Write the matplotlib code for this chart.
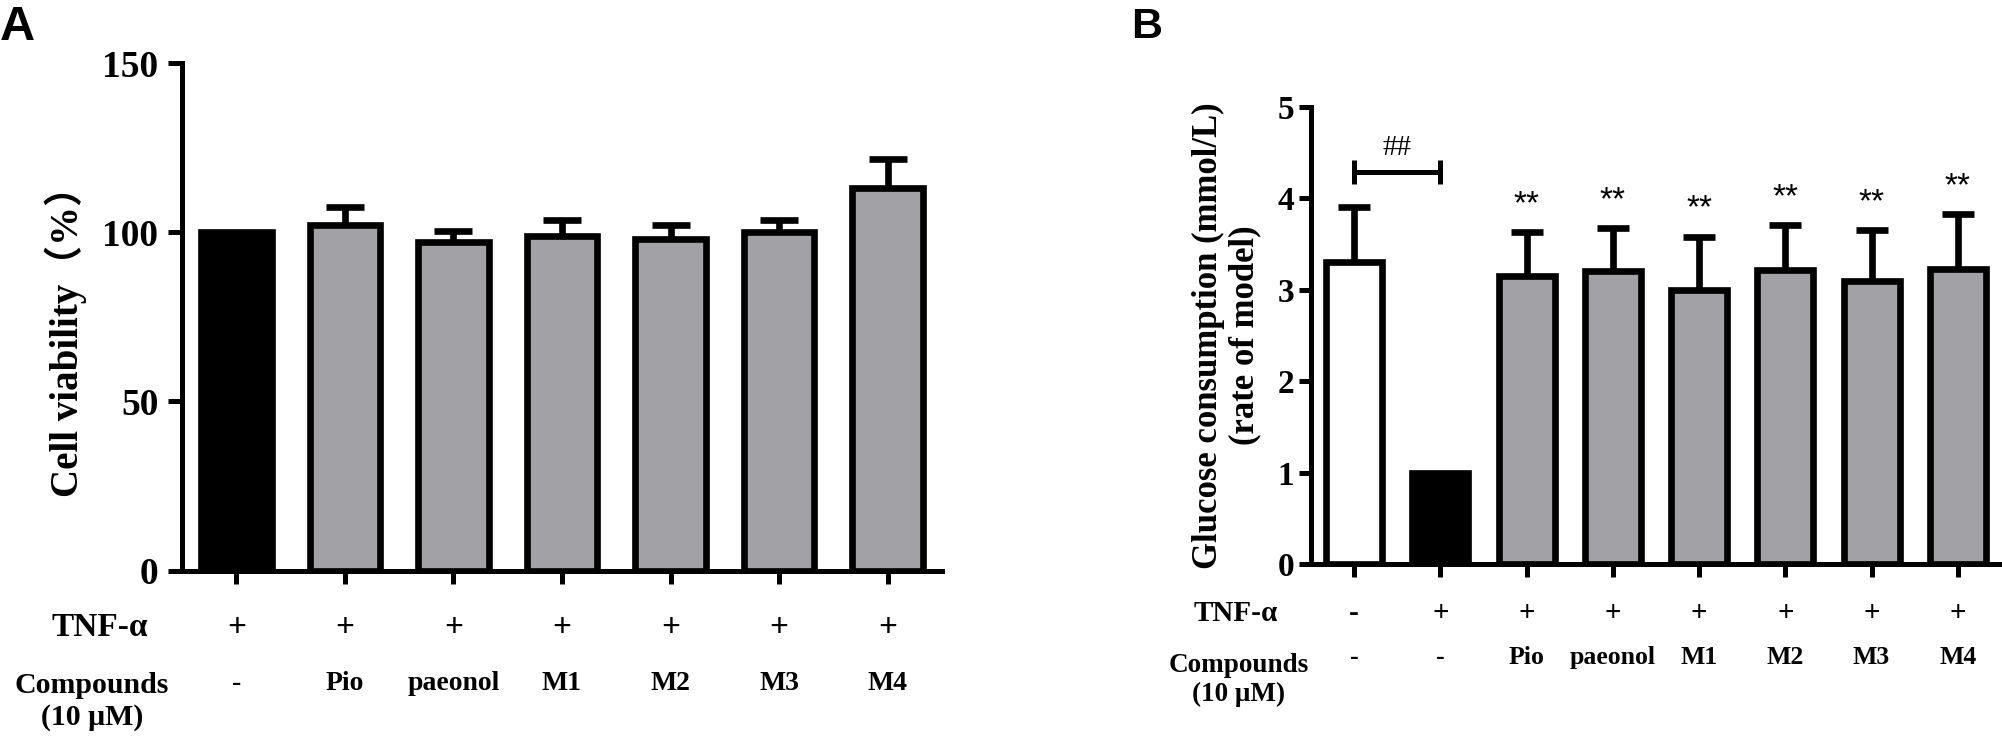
import numpy as np
import matplotlib.pyplot as plt

SERIF = ['Liberation Serif', 'Noto Sans CJK SC', 'DejaVu Sans']
SANS = ['Liberation Sans', 'DejaVu Sans']
GREY = '#a2a1a6'

# ── Panel A: cell viability ──────────────────────────────────────────────────
a_compounds = ['-', 'Pio', 'paeonol', 'M1', 'M2', 'M3', 'M4']
a_tnf       = ['+', '+', '+', '+', '+', '+', '+']
a_vals      = [100, 102, 97, 99, 98, 100, 113]
a_errs      = [0, 5.5, 3.3, 4.5, 4.0, 3.5, 8.5]
a_colors    = ['black'] + [GREY] * 6
a_yticks    = [0, 50, 100, 150]

# ── Panel B: glucose consumption ─────────────────────────────────────────────
b_compounds = ['-', '-', 'Pio', 'paeonol', 'M1', 'M2', 'M3', 'M4']
b_tnf       = ['-', '+', '+', '+', '+', '+', '+', '+']
b_vals      = [3.30, 1.00, 3.15, 3.20, 3.00, 3.22, 3.10, 3.23]
b_errs      = [0.60, 0, 0.48, 0.47, 0.58, 0.49, 0.55, 0.60]
b_colors    = ['white', 'black'] + [GREY] * 6
b_marks     = ['', '', '**', '**', '**', '**', '**', '**']
b_yticks    = [0, 1, 2, 3, 4, 5]


def draw_bars(ax, vals, errs, colors, capsize):
    x = np.arange(len(vals))
    vals = np.asarray(vals, float)
    errs = np.asarray(errs, float)
    ax.bar(x, vals, width=0.65, color=colors, edgecolor='black',
           linewidth=4.8, zorder=3)
    m = errs > 0
    eb = ax.errorbar(x[m], vals[m], yerr=[np.zeros(m.sum()), errs[m]],
                     fmt='none', ecolor='black', elinewidth=4.8,
                     capsize=capsize, capthick=4.8, zorder=2)
    eb[1][0].set_visible(False)   # one-sided (upper) error bars
    return x


def style_axis(ax, n, yticks, tick_fs, ylen, ypad):
    ax.set_xlim(-0.5, n - 0.5)
    ax.set_ylim(yticks[0], yticks[-1])
    ax.set_yticks(yticks)
    ax.set_xticks(np.arange(n))
    ax.set_xticklabels([''] * n)
    for s in ('top', 'right'):
        ax.spines[s].set_visible(False)
    for s in ('left', 'bottom'):
        ax.spines[s].set_linewidth(3.6)
    ax.tick_params(axis='x', direction='out', length=9, width=3.6)
    ax.tick_params(axis='y', direction='out', length=ylen, width=3.6,
                   pad=ypad)
    for lab in ax.get_yticklabels():
        lab.set_fontfamily(SERIF)
        lab.set_fontweight('bold')
        lab.set_fontsize(tick_fs)


fig = plt.figure(figsize=(20.02, 7.37), dpi=100)

# ── A ────────────────────────────────────────────────────────────────────────
axA = fig.add_axes([0.0909, 0.2259, 0.3796, 0.6886])
xA = draw_bars(axA, a_vals, a_errs, a_colors, capsize=13.5)
style_axis(axA, len(a_vals), a_yticks, 27, 10, 7)
axA.set_ylabel('Cell viability（%）', family=SERIF, fontweight='bold',
               fontsize=28, va='center')
axA.yaxis.set_label_coords(-0.153, 0.47)

trA = axA.get_xaxis_transform()
for xi, t, c in zip(xA, a_tnf, a_compounds):
    axA.text(xi, -0.112, t, transform=trA, ha='center', va='center',
             family=SERIF, fontweight='bold', fontsize=24)
    axA.text(xi, -0.222, c, transform=trA, ha='center', va='center',
             family=SERIF, fontweight='bold', fontsize=20)
axA.text(-1.257, -0.112, 'TNF-α', transform=trA, ha='center', va='center',
         family=SERIF, fontweight='bold', fontsize=24, clip_on=False)
axA.text(-1.33, -0.258, 'Compounds\n(10 μM)', transform=trA, ha='center',
         va='center', family=SERIF, fontweight='bold', fontsize=21.5,
         linespacing=1.25, clip_on=False)

# ── B ────────────────────────────────────────────────────────────────────────
axB = fig.add_axes([0.6548, 0.2341, 0.3447, 0.6212])
xB = draw_bars(axB, b_vals, b_errs, b_colors, capsize=11.5)
style_axis(axB, len(b_vals), b_yticks, 24, 8.6, 3.6)
axB.set_ylabel('Glucose consumption (mmol/L)\n(rate of model)', family=SERIF,
               fontweight='bold', fontsize=25, va='center', linespacing=1.1)
axB.yaxis.set_label_coords(-0.122, 0.5)

for xi, v, e, mk in zip(xB, b_vals, b_errs, b_marks):
    if mk:
        axB.text(xi, v + e + 0.3, mk, ha='center', va='center',
                 family=SANS, fontsize=24)

# significance bracket between control and model
y_br = b_vals[0] + b_errs[0] + 0.39
axB.plot([xB[0], xB[1]], [y_br, y_br], color='black', lw=3.6,
         solid_capstyle='butt')
axB.vlines([xB[0], xB[1]], y_br - 0.13, y_br + 0.13, color='black', lw=3.6)
axB.text((xB[0] + xB[1]) / 2, y_br + 0.26, '##', ha='center', va='center',
         family=SERIF, fontsize=21)

trB = axB.get_xaxis_transform()
for xi, t, c in zip(xB, b_tnf, b_compounds):
    axB.text(xi, -0.108, t, transform=trB, ha='center', va='center',
             family=SERIF, fontweight='bold', fontsize=21)
    axB.text(xi, -0.203, c, transform=trB, ha='center', va='center',
             family=SERIF, fontweight='bold', fontsize=18.5)
axB.text(-1.371, -0.108, 'TNF-α', transform=trB, ha='center', va='center',
         family=SERIF, fontweight='bold', fontsize=21, clip_on=False)
axB.text(-1.336, -0.252, 'Compounds\n(10 μM)', transform=trB, ha='center',
         va='center', family=SERIF, fontweight='bold', fontsize=19.5,
         linespacing=1.2, clip_on=False)

# panel letters
fig.text(0.0, 1 - 5 / 737, 'A', ha='left', va='top', family=SANS,
         fontweight='bold', fontsize=35)
fig.text(1131 / 2002, 1 - 7 / 737, 'B', ha='left', va='top', family=SANS,
         fontweight='bold', fontsize=31)

fig.savefig('out.png', dpi=100)
